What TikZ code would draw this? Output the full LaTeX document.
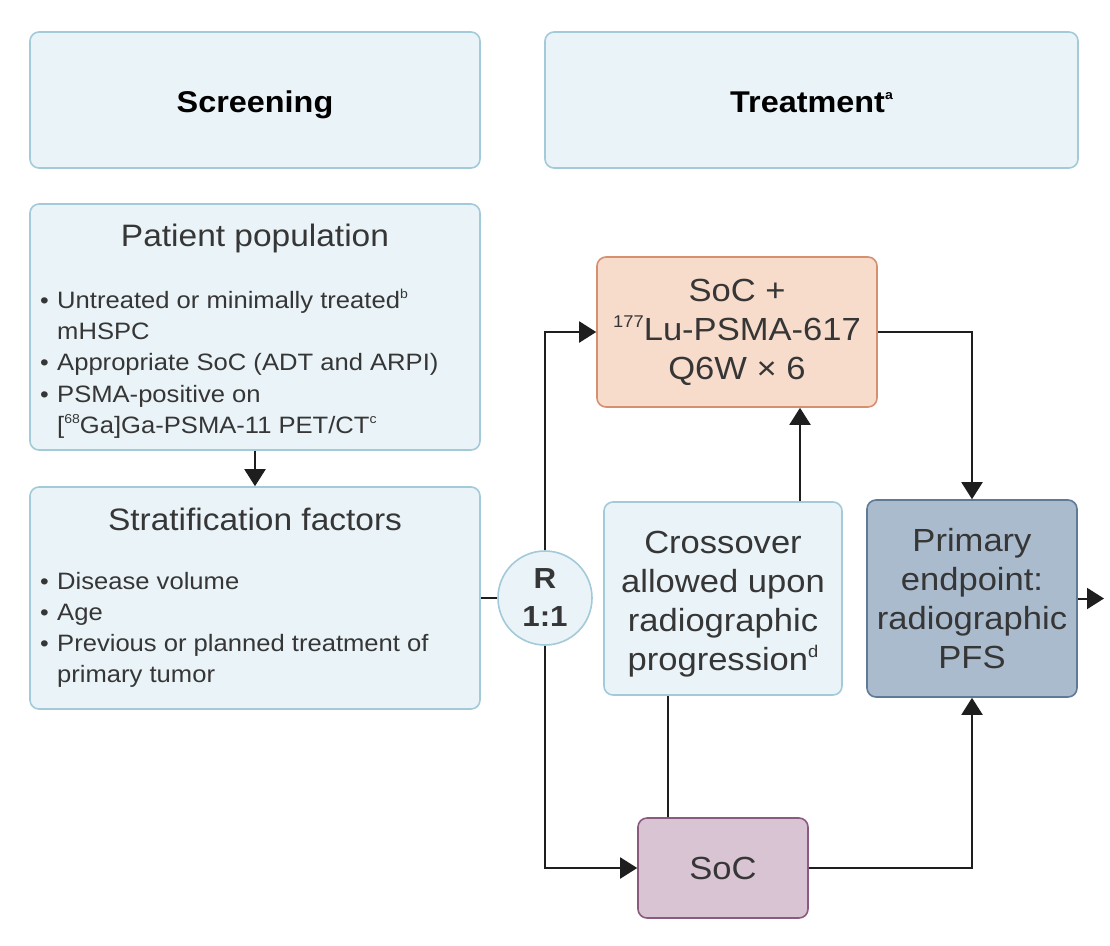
\documentclass[tikz,border=0pt]{standalone}
\usepackage{fontspec}
\setmainfont{Liberation Sans}[FakeStretch=1.08]
\usetikzlibrary{arrows.meta}
\definecolor{lbfill}{HTML}{EAF4F8}
\definecolor{lbdraw}{HTML}{A3CAD8}
\definecolor{orfill}{HTML}{F7DCCC}
\definecolor{ordraw}{HTML}{D5906F}
\definecolor{pufill}{HTML}{D9C4D3}
\definecolor{pudraw}{HTML}{8B5A7F}
\definecolor{dbfill}{HTML}{AABBCE}
\definecolor{dbdraw}{HTML}{5F7A97}
\definecolor{lc}{HTML}{1E1E1E}
\definecolor{txt}{HTML}{363636}
\newcommand\bul{\makebox[17pt][l]{\fontsize{23}{23}\selectfont\textbullet}}
\newcommand\ind{\hspace*{17pt}}
\newcommand\sps[2]{\raisebox{#2}{\fontsize{#1}{#1}\selectfont\mdseries #2}}
\newcommand\tsup[1]{\raisebox{0.42em}{\fontsize{13}{13}\selectfont #1}}
\newcommand\bsup[1]{\raisebox{0.40em}{\fontsize{17}{17}\selectfont #1}}
\begin{document}
\begin{tikzpicture}[x=1pt,y=-1pt,
  box/.style={draw, rounded corners=9pt, line width=1.6pt, inner sep=0pt, align=center, text=txt,
    font=\fontsize{32}{39}\selectfont},
  bluebox/.style={box, fill=lbfill, draw=lbdraw},
  orbox/.style={box, fill=orfill, draw=ordraw},
  pubox/.style={box, fill=pufill, draw=pudraw},
  dbbox/.style={box, fill=dbfill, draw=dbdraw},
  head/.style={font=\fontsize{30}{36}\selectfont\bfseries, text=black, anchor=base, inner sep=0pt},
  title/.style={font=\fontsize{31}{37}\selectfont, text=txt, inner sep=0pt},
  btext/.style={font=\fontsize{32}{39}\selectfont, text=txt, inner sep=0pt, align=center},
  blist/.style={font=\fontsize{23.7}{31.2}\selectfont, text=txt, align=left, inner sep=0pt, anchor=north west},
  ln/.style={line width=2pt, draw=lc},
  arr/.style={ln, -{Triangle[length=17pt,width=21pt]}}]
\useasboundingbox (0,0) rectangle (1110,945);
\fill[white] (0,0) rectangle (1110,945);

% headers
\node[bluebox, minimum width=450pt, minimum height=136pt] (scr) at (255,100) {};
\node[head] (scrt) at (255,112) {Screening};
\node[bluebox, minimum width=533pt, minimum height=136pt] (trt) at (811.5,100) {};
\node[head] (trtt) at (811.5,112) {Treatment\tsup{a}};

% patient population
\node[bluebox, minimum width=450pt, minimum height=246pt] (pp) at (255,327) {};
\node[title, anchor=base] (ppt) at (255,246) {Patient population};
\node[blist] (ppl) at (40,289) {\bul Untreated or minimally treated\tsup{b}\\
\ind mHSPC\\
\bul Appropriate SoC (ADT and ARPI)\\
\bul PSMA-positive on\\
\ind [\tsup{68}Ga]Ga-PSMA-11 PET/CT\tsup{c}};

% stratification
\node[bluebox, minimum width=450pt, minimum height=222pt] (sf) at (255,598) {};
\node[title, anchor=base] (sft) at (255,530) {Stratification factors};
\node[blist] (sfl) at (40,572) {\bul Disease volume\\
\bul Age\\
\bul Previous or planned treatment of\\
\ind primary tumor};

% randomisation
\node[circle, draw=lbdraw, fill=lbfill, line width=1.6pt, minimum size=94pt, inner sep=0pt,
  align=center, font=\fontsize{29}{38}\selectfont\bfseries, text=txt] (r) at (545,598) {R\\1:1};

% treatment arms
\node[orbox, minimum width=280pt, minimum height=150pt] (lu) at (737,332)
  {SoC +\\\bsup{177}Lu-PSMA-617\\Q6W × 6};
\node[bluebox, minimum width=238pt, minimum height=193pt] (cross) at (723,598.5) {};
\node[btext] (crosst) at (723,604)
  {Crossover\\allowed upon\\radiographic\\progression\bsup{d}};
\node[pubox, minimum width=170pt, minimum height=100pt] (soc) at (723,868) {SoC};
\node[dbbox, minimum width=210pt, minimum height=197pt] (pe) at (972,598.5)
  {Primary\\endpoint:\\radiographic\\PFS};
\coordinate (out) at (1104,598.5);

% connectors
\draw[arr] (pp.south) -- (sf.north);
\draw[ln] (sf.east) -- (r.west);
\draw[arr] (r.north) |- (lu.west);
\draw[arr] (r.south) |- (soc.west);
\draw[arr] (lu.east) -| (pe.north);
\draw[arr] (soc.east) -| (pe.south);
\draw[arr] ([xshift=77pt]cross.north) -- ([xshift=77pt]cross.north |- lu.south);
\draw[ln] ([xshift=-55pt]soc.north) -- ([xshift=-55pt]soc.north |- cross.south);
\draw[arr] (pe.east) -- (out);
\end{tikzpicture}
\end{document}
